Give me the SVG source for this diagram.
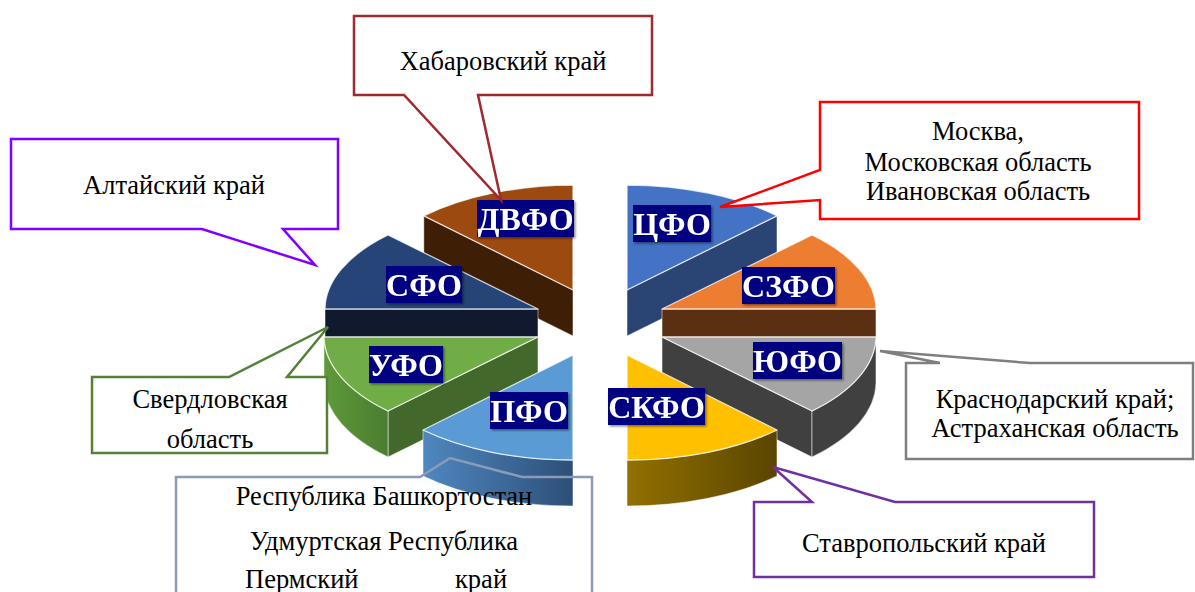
<svg xmlns="http://www.w3.org/2000/svg" width="1195" height="592" viewBox="0 0 1195 592">
<defs>
<style>
.face{stroke:#ffffff;stroke-opacity:0.75;stroke-width:1.3;stroke-linejoin:round}
.side{stroke:#ffffff;stroke-opacity:0.5;stroke-width:1;stroke-linejoin:round}
.lbl rect{fill:#000080}
.lbl text{font-family:"Liberation Serif","Times New Roman",serif;font-weight:bold;font-size:32px;fill:#ffffff;text-anchor:middle}
.co{fill:#ffffff;stroke-width:2.5;stroke-linejoin:miter}
.ct{font-family:"Liberation Serif","Times New Roman",serif;font-size:26.5px;fill:#000000;text-anchor:middle}
</style>
<filter id="sh" x="-10%" y="-10%" width="130%" height="140%">
<feDropShadow dx="1.5" dy="1.5" stdDeviation="1" flood-color="#000000" flood-opacity="0.45"/>
</filter>
<linearGradient id="gPfo" x1="423" y1="0" x2="573" y2="0" gradientUnits="userSpaceOnUse">
<stop offset="0" stop-color="#4F87C0"/><stop offset="1" stop-color="#2D4F78"/>
</linearGradient>
<linearGradient id="gSkfo" x1="627" y1="0" x2="777" y2="0" gradientUnits="userSpaceOnUse">
<stop offset="0" stop-color="#927000"/><stop offset="1" stop-color="#5A4500"/>
</linearGradient>
<linearGradient id="gUfo" x1="324" y1="0" x2="388" y2="0" gradientUnits="userSpaceOnUse">
<stop offset="0" stop-color="#5E9A3A"/><stop offset="1" stop-color="#4A7D30"/>
</linearGradient>
</defs>
<rect width="1195" height="592" fill="#ffffff"/>

<g id="pie">
<g id="slice-dvfo">
<path class="side" fill="#3E1E04" d="M423.8,215.8 L573,290 L573,336 L423.8,261.8 Z"/>
<path class="face" fill="#9C4A10" d="M573,290 L573,185 A213 105 0 0 0 423.8,215.8 Z"/>
</g>
<g id="slice-cfo">
<path class="side" fill="#2A4474" d="M777,215.8 L627,290 L627,336 L777,261.8 Z"/>
<path class="face" fill="#4472C4" d="M627,290 L627,185 A213 105 0 0 1 777,215.8 Z"/>
</g>
<g id="slice-sfo">
<rect class="side" fill="#10192E" x="325" y="309" width="213" height="28"/>
<path class="face" fill="#264478" d="M538,309 L388,235 A213 105 0 0 0 325,309 Z"/>
</g>
<g id="slice-szfo">
<rect class="side" fill="#5B3012" x="662" y="309" width="214" height="28"/>
<path class="face" fill="#ED7D31" d="M662,309 L812,235 A213 105 0 0 1 876,309 Z"/>
</g>
<g id="slice-ufo">
<path class="side" fill="#43682B" d="M538,337 L388,411 L388,457 L538,383 Z"/>
<path class="side" fill="url(#gUfo)" d="M324,337 A213 105 0 0 0 388,411 L388,457 A213 105 0 0 1 324,383 Z"/>
<path class="face" fill="#70AD47" d="M538,337 L324,337 A213 105 0 0 0 388,411 Z"/>
</g>
<g id="slice-yufo">
<path class="side" fill="#404040" d="M662,337 L812,411 L812,457 L662,383 Z"/>
<path class="side" fill="#404040" d="M876,337 A213 105 0 0 1 812,411 L812,457 A213 105 0 0 0 876,383 Z"/>
<path class="face" fill="#A5A5A5" d="M662,337 L876,337 A213 105 0 0 1 812,411 Z"/>
</g>
<g id="slice-pfo">
<path class="side" fill="url(#gPfo)" d="M573,460 A213 105 0 0 1 423,430 L423,476 A213 105 0 0 0 573,506 Z"/>
<path class="face" fill="#5B9BD5" d="M573,355 L573,460 A213 105 0 0 1 423,430 Z"/>
</g>
<g id="slice-skfo">
<path class="side" fill="url(#gSkfo)" d="M627,460 A213 105 0 0 0 777,430 L777,476 A213 105 0 0 1 627,506 Z"/>
<path class="face" fill="#FFC000" d="M627,355 L627,460 A213 105 0 0 0 777,430 Z"/>
</g>
</g>

<g id="labels" filter="url(#sh)">
<g id="lbl-dvfo" class="lbl"><rect x="477" y="200" width="97" height="37"/><text x="525.5" y="230">ДВФО</text></g>
<g id="lbl-cfo" class="lbl"><rect x="633" y="205" width="78" height="37"/><text x="672" y="235">ЦФО</text></g>
<g id="lbl-szfo" class="lbl"><rect x="742" y="267" width="93" height="37"/><text x="788.5" y="297">СЗФО</text></g>
<g id="lbl-sfo" class="lbl"><rect x="386" y="266" width="76" height="37"/><text x="424" y="296">СФО</text></g>
<g id="lbl-ufo" class="lbl"><rect x="369" y="346" width="74" height="37"/><text x="406" y="376">УФО</text></g>
<g id="lbl-pfo" class="lbl"><rect x="490" y="392" width="78" height="37"/><text x="529" y="422">ПФО</text></g>
<g id="lbl-yufo" class="lbl"><rect x="753" y="342" width="89" height="37"/><text x="797.5" y="372">ЮФО</text></g>
<g id="lbl-skfo" class="lbl"><rect x="608" y="388" width="97" height="37"/><text x="656.5" y="418">СКФО</text></g>
</g>

<g id="connectors">
<g id="callout-khabarovsk">
<path class="co" stroke="#A0282F" d="M354,16 H652 V95 H478 L501,200 L404,95 H354 Z"/>
<text class="ct" x="503" y="70">Хабаровский край</text>
</g>
<g id="callout-moscow">
<path class="co" stroke="#FF0000" d="M820,102 H1139 V219 H820 V200 L720,207 L820,170 Z"/>
<text class="ct" x="978" y="140">Москва,</text>
<text class="ct" x="978" y="171">Московская область</text>
<text class="ct" x="978" y="200">Ивановская область</text>
</g>
<g id="callout-altai">
<path class="co" stroke="#7F00FF" d="M11,139 H338 V229 H283 L315,265 L202,229 H11 Z"/>
<text class="ct" x="174" y="194">Алтайский край</text>
</g>
<g id="callout-sverdlovsk">
<path class="co" stroke="#538135" d="M92,377 H229 L328,327 L287,377 H327 V453 H92 Z"/>
<text class="ct" x="210" y="408">Свердловская</text>
<text class="ct" x="210" y="448">область</text>
</g>
<g id="callout-bashkortostan">
<path class="co" style="fill:none" stroke="#8A9BB8" d="M176,477 H420 L450,458 L522,477 H592 V600 H176 Z"/>
<text class="ct" x="384" y="505">Республика Башкортостан</text>
<text class="ct" x="384" y="550">Удмуртская Республика</text>
<text class="ct" style="text-anchor:start"><tspan x="245" y="588">Пермский</tspan> <tspan x="455" y="588">край</tspan></text>
</g>
<g id="callout-krasnodar">
<path class="co" stroke="#7F7F7F" d="M906,363 H940 L880,351 L1030,363 H1193 V459 H906 Z"/>
<text class="ct" x="1055" y="408">Краснодарский край;</text>
<text class="ct" x="1055" y="437">Астраханская область</text>
</g>
<g id="callout-stavropol">
<path class="co" stroke="#7030A0" d="M754,502 H812 L773,467 L895,502 H1094 V577 H754 Z"/>
<text class="ct" x="924" y="552">Ставропольский край</text>
</g>
</g>
</svg>
